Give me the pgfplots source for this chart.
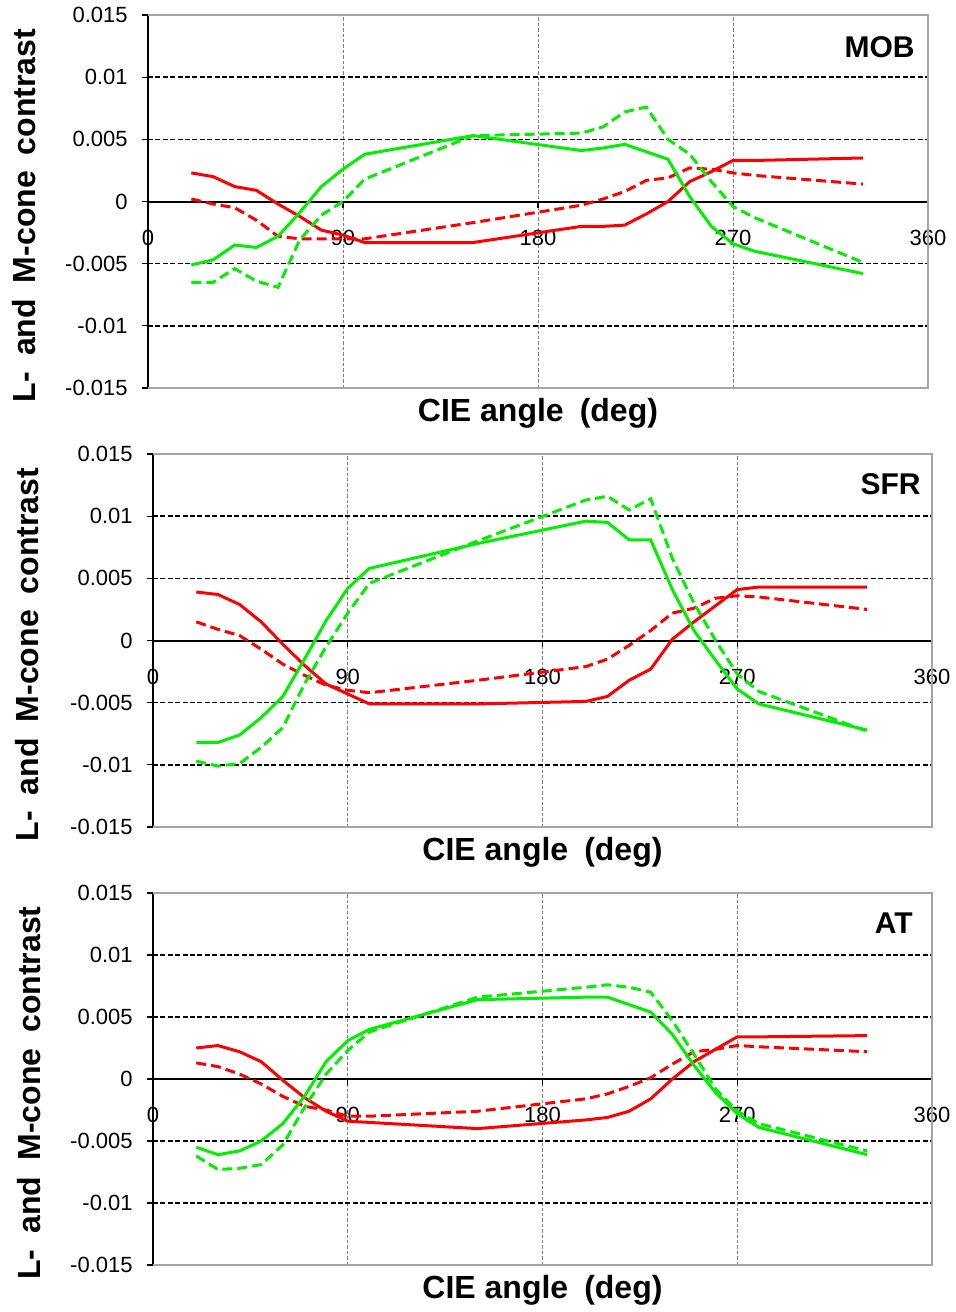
\documentclass[border=0pt]{standalone}
\usepackage{fontspec}
\setmainfont{Liberation Sans}
\usepackage{pgfplots}
\usepackage{pgfplotstable}
\pgfplotsset{compat=1.18}
\usetikzlibrary{calc}
\definecolor{myred}{RGB}{255,0,0}
\definecolor{mygreen}{RGB}{0,240,0}
\definecolor{framegray}{RGB}{165,165,165}

\pgfplotstableread{
x rs rd gs gd
20 0.0023 0.0002 -0.0051 -0.0065
30 0.0020 -0.0002 -0.0047 -0.0065
40 0.0012 -0.0005 -0.0035 -0.0054
50 0.0009 -0.0015 -0.0037 -0.0064
60 -0.0002 -0.0028 -0.0028 -0.0069
70 -0.0012 -0.0030 -0.0009 -0.0031
80 -0.0023 -0.0030 0.0012 -0.0011
90 -0.0027 -0.0030 0.0026 0.0000
100 -0.0033 -0.0030 0.0038 0.0018
150 -0.0033 -0.0017 0.0053 0.0053
200 -0.0020 -0.0003 0.0041 0.0055
210 -0.0020 0.0002 0.0043 0.0060
220 -0.0019 0.0008 0.0046 0.0072
230 -0.0010 0.0017 0.0040 0.0076
240 0.0000 0.0019 0.0034 0.0050
250 0.0016 0.0027 0.0004 0.0038
260 0.0024 0.0026 -0.0020 0.0016
270 0.0033 0.0023 -0.0034 -0.0004
280 0.0033 0.0021 -0.0040 -0.0013
330 0.0035 0.0014 -0.0058 -0.0049
}\mob

\pgfplotstableread{
x rs rd gs gd
20 0.0039 0.0015 -0.0082 -0.0097
30 0.0037 0.0009 -0.0082 -0.0101
40 0.0029 0.0004 -0.0076 -0.0099
50 0.0015 -0.0007 -0.0062 -0.0086
60 -0.0003 -0.0019 -0.0045 -0.0070
70 -0.0020 -0.0028 -0.0015 -0.0035
80 -0.0035 -0.0036 0.0016 -0.0005
90 -0.0043 -0.0040 0.0042 0.0022
100 -0.0051 -0.0042 0.0058 0.0046
150 -0.0051 -0.0032 0.0078 0.0080
200 -0.0049 -0.0021 0.0096 0.0113
210 -0.0045 -0.0015 0.0095 0.0116
220 -0.0032 -0.0004 0.0081 0.0105
230 -0.0023 0.0008 0.0081 0.0114
240 0.0001 0.0022 0.0041 0.0066
250 0.0015 0.0026 0.0008 0.0030
260 0.0028 0.0034 -0.0016 0.0000
270 0.0041 0.0036 -0.0039 -0.0027
280 0.0043 0.0035 -0.0051 -0.0041
330 0.0043 0.0025 -0.0072 -0.0073
}\sfr

\pgfplotstableread{
x rs rd gs gd
20 0.0025 0.0013 -0.0055 -0.0062
30 0.0027 0.0010 -0.0061 -0.0073
40 0.0022 0.0004 -0.0058 -0.0072
50 0.0014 -0.0004 -0.0050 -0.0069
60 -0.0001 -0.0014 -0.0036 -0.0053
70 -0.0015 -0.0022 -0.0014 -0.0023
80 -0.0026 -0.0025 0.0014 0.0004
90 -0.0034 -0.0030 0.0031 0.0023
100 -0.0035 -0.0030 0.0040 0.0038
150 -0.0040 -0.0026 0.0064 0.0066
200 -0.0033 -0.0016 0.0066 0.0074
210 -0.0031 -0.0012 0.0066 0.0076
220 -0.0026 -0.0006 0.0060 0.0074
230 -0.0016 0.0001 0.0054 0.0070
240 0.0000 0.0012 0.0036 0.0047
250 0.0014 0.0022 0.0011 0.0020
260 0.0024 0.0024 -0.0011 -0.0008
270 0.0034 0.0027 -0.0028 -0.0026
280 0.0034 0.0026 -0.0039 -0.0036
330 0.0035 0.0022 -0.0061 -0.0058
}\at

\pgfplotsset{
  panel/.style={
    scale only axis, width=390pt, height=186.5pt,
    xmin=0, xmax=360, ymin=-0.015, ymax=0.015,
    clip=false,
    axis x line=middle, axis y line=left,
    axis line style={-},
    x axis line style={black, line width=1pt},
    y axis line style={black, line width=0.6pt},
    xtick={90,180,270}, xticklabels={90,180,270},
    extra x ticks={0,360}, extra x tick labels={0,360},
    extra x tick style={grid=none},
    ytick={-0.01,-0.005,0.005,0.01},
    yticklabels={-0.01,-0.005,0.005,0.01},
    extra y ticks={-0.015,0,0.015}, extra y tick labels={-0.015,0,0.015},
    extra y tick style={grid=none},
    scaled y ticks=false, scaled x ticks=false,
    xmajorgrids, ymajorgrids,
    x grid style={gray, line width=0.5pt, dash pattern=on 1.7pt off 1pt},
    y grid style={black, line width=0.8pt, dash pattern=on 2.5pt off 1.2pt},
    tick style={black, line width=0.6pt},
    major tick length=3pt,
    xtick align=outside, ytick align=outside,
    tick label style={font=\fontsize{11}{12}\selectfont},
    yticklabel style={anchor=east, inner sep=0pt, xshift=-7pt},
    xticklabel style={anchor=north, inner sep=0pt, yshift=-11pt},
    after end axis/.code={\draw[framegray, line width=1pt] (rel axis cs:0,0) -- (rel axis cs:1,0) -- (rel axis cs:1,1) -- (rel axis cs:0,1);},
  },
  rs/.style={myred, line width=1.5pt},
  rd/.style={myred, line width=1.5pt, dash pattern=on 5pt off 2.5pt},
  gs/.style={mygreen, line width=1.5pt},
  gd/.style={mygreen, line width=1.5pt, dash pattern=on 5pt off 2.5pt},
}
\newcommand{\ylab}{L-\hspace{0.5em}and\hspace{0.5em}M-cone\hspace{0.5em}contrast}
\newcommand{\xlab}{CIE angle\hspace{0.5em}(deg)}
\tikzset{lab/.style={font=\fontsize{16}{18}\selectfont\bfseries, inner sep=0pt},
         plab/.style={font=\fontsize{15}{17}\selectfont\bfseries, anchor=east, inner sep=0pt}}

\begin{document}
\begin{tikzpicture}
\useasboundingbox (0,0) rectangle (477.5pt,-656pt);
% Panel 1
\begin{axis}[panel, anchor=north west, at={(74pt,-7.5pt)}, width=390pt]
\addplot[rs] table[x=x,y=rs]{\mob};
\addplot[rd] table[x=x,y=rd]{\mob};
\addplot[gs] table[x=x,y=gs]{\mob};
\addplot[gd] table[x=x,y=gd]{\mob};
\node[plab] at ($(rel axis cs:1,1)+(-6.5pt,-16pt)$) {MOB};
\node[lab, rotate=90] at ($(rel axis cs:0,0.5)+(-62pt,-7pt)$) {\ylab};
\node[lab] at ($(rel axis cs:0.5,0)+(0pt,-12.5pt)$) {\xlab};
\end{axis}
% Panel 2
\begin{axis}[panel, anchor=north west, at={(76.5pt,-227pt)}, width=389.5pt]
\addplot[rs] table[x=x,y=rs]{\sfr};
\addplot[rd] table[x=x,y=rd]{\sfr};
\addplot[gs] table[x=x,y=gs]{\sfr};
\addplot[gd] table[x=x,y=gd]{\sfr};
\node[plab] at ($(rel axis cs:1,1)+(-5.5pt,-15pt)$) {SFR};
\node[lab, rotate=90] at ($(rel axis cs:0,0.5)+(-63pt,-7pt)$) {\ylab};
\node[lab] at ($(rel axis cs:0.5,0)+(0pt,-12.5pt)$) {\xlab};
\end{axis}
% Panel 3
\begin{axis}[panel, anchor=north west, at={(76.5pt,-446.5pt)}, width=389.5pt, height=186pt]
\addplot[rs] table[x=x,y=rs]{\at};
\addplot[rd] table[x=x,y=rd]{\at};
\addplot[gs] table[x=x,y=gs]{\at};
\addplot[gd] table[x=x,y=gd]{\at};
\node[plab] at ($(rel axis cs:1,1)+(-9.5pt,-15pt)$) {AT};
\node[lab, rotate=90] at ($(rel axis cs:0,0.5)+(-62pt,-7pt)$) {\ylab};
\node[lab] at ($(rel axis cs:0.5,0)+(0pt,-12.5pt)$) {\xlab};
\end{axis}
\end{tikzpicture}
\end{document}
